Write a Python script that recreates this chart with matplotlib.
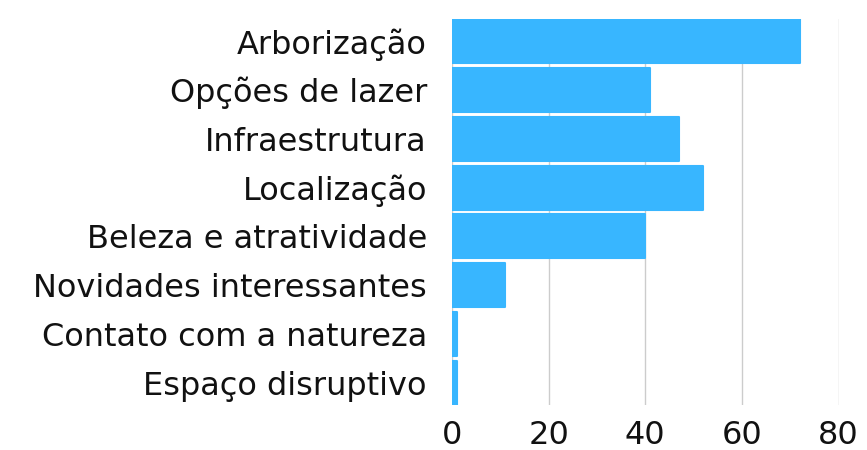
import numpy as np
import matplotlib.pyplot as plt

categories = ["Arborização", "Opções de lazer", "Infraestrutura", "Localização",
              "Beleza e atratividade", "Novidades interessantes",
              "Contato com a natureza", "Espaço disruptivo"]
values = [72, 41, 47, 52, 40, 11, 1, 1]
xticks = [0, 20, 40, 60, 80]

plt.rcParams['font.family'] = ['DejaVu Sans']

fig = plt.figure(figsize=(8.67, 4.5), dpi=100)
ax = fig.add_axes([0.5213, 0.10, 0.4460, 0.858])

y = np.arange(len(categories))
ax.barh(y, values, height=0.9, color="#38B6FF", edgecolor="#38B6FF",
        linewidth=1.5, joinstyle="round", zorder=3)

ax.set_xlim(0, 80)
ax.set_ylim(len(categories) - 0.55, -0.45)
ax.set_xticks(xticks)
ax.set_yticks(y)
ax.set_yticklabels(categories)
ax.tick_params(length=0, labelsize=23, colors="#111111")
ax.tick_params(axis="y", pad=18)
ax.tick_params(axis="x", pad=11)
ax.grid(axis="x", color="#CCCCCC", linewidth=1, zorder=0)
for s in ax.spines.values():
    s.set_visible(False)

fig.savefig("out.png", dpi=100)
